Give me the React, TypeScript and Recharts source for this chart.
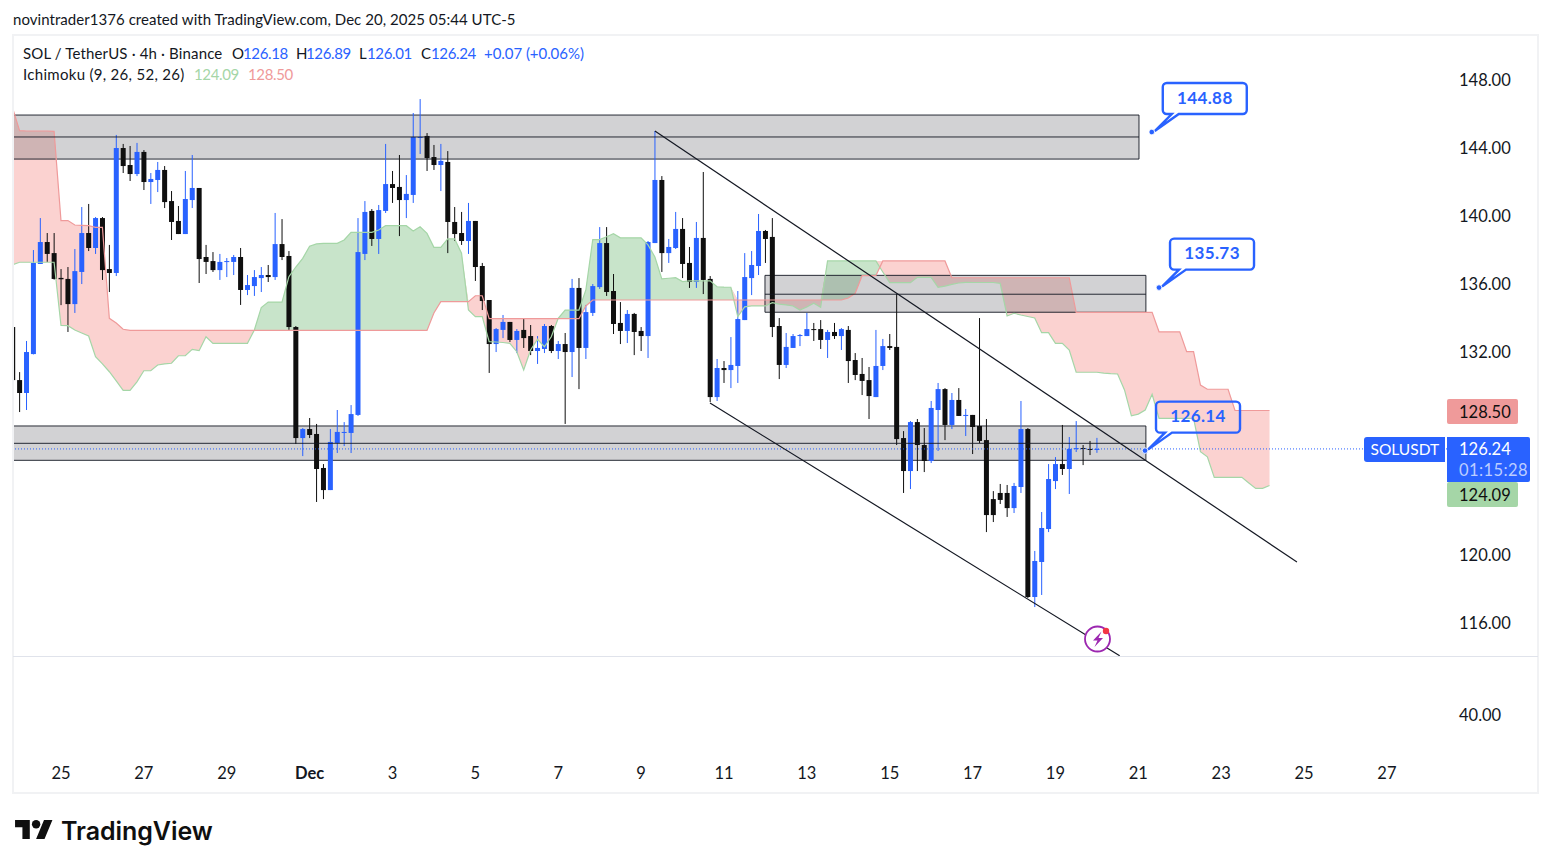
import React from "react";
import { ComposedChart, XAxis, YAxis, Bar, Area, Line, ReferenceArea, ReferenceLine, ReferenceDot } from "recharts";

const FONT = "Lato, 'Open Sans', sans-serif";
const BLUE = "#2962ff";
const INK = "#131722";

// Candles, 4h, one row per line of ten, first candle index = -7
const firstCandle = -7;
const highs = [
  133.41,130.76,132.59,137.94,139.82,138.94,138.94,136.82,136.94,138.00,
  140.47,140.65,139.88,139.88,138.24,144.71,144.18,144.06,144.24,143.82,
  142.47,143.12,142.88,141.41,140.53,142.59,143.53,141.59,138.24,137.82,
  137.71,137.47,137.65,138.06,136.47,136.76,136.94,137.06,140.12,139.76,
  137.88,133.47,127.47,128.06,127.71,125.35,127.41,128.53,127.82,128.82,
  139.82,140.82,140.35,140.59,144.18,142.59,143.53,142.35,146.00,146.82,
  144.82,144.12,144.18,143.76,140.47,140.18,140.71,139.65,137.18,135.00,
  133.35,134.12,133.71,133.29,133.94,133.53,132.88,133.59,133.53,132.59,
  133.06,136.24,136.29,134.71,135.94,139.29,139.29,136.53,134.88,134.41,
  134.24,133.41,138.47,144.94,142.29,138.59,140.18,139.82,138.12,139.59,
  142.53,136.41,131.53,131.41,132.82,135.53,137.76,137.88,140.06,139.12,
  139.82,133.94,133.06,133.00,133.00,134.24,133.65,133.82,133.24,133.65,
  133.35,133.47,131.88,131.59,131.06,133.24,132.71,133.00,135.35,127.29,
  127.88,128.00,127.47,129.06,130.12,129.82,129.53,129.82,128.59,128.24,
  133.94,128.00,123.76,124.18,124.12,124.24,129.06,127.47,120.24,122.53,
  125.35,125.76,127.65,126.94,127.88,126.47,126.71,126.89,
];
const bodyTops = [
  133.41,130.29,131.94,137.18,138.41,138.41,137.76,136.30,136.24,136.70,
  138.94,138.94,139.82,139.82,136.82,143.94,143.94,142.94,143.71,143.71,
  142.12,142.65,142.65,140.82,139.65,140.94,141.59,141.59,137.53,137.29,
  137.24,137.29,137.53,137.53,135.88,136.35,136.47,136.47,138.29,138.29,
  137.59,133.41,127.41,127.41,127.12,125.12,126.65,127.24,127.24,128.29,
  137.82,140.18,140.24,140.29,141.82,141.82,141.65,141.24,144.59,144.59,
  144.65,143.41,143.18,143.12,139.59,138.94,139.65,139.65,137.00,135.00,
  133.29,133.71,133.71,133.18,133.24,132.88,132.18,133.47,133.47,132.41,
  132.41,135.71,135.71,134.29,135.82,138.35,138.35,135.53,133.65,134.18,
  134.18,133.18,138.41,142.06,142.06,138.12,139.18,139.18,137.18,138.65,
  138.65,136.24,131.00,131.00,131.18,133.88,136.35,137.06,139.06,139.06,
  138.71,133.47,132.24,132.88,132.94,133.29,133.29,133.29,133.12,133.12,
  133.29,133.24,131.47,130.65,130.29,131.12,132.29,132.29,132.24,126.88,
  127.82,127.82,126.47,128.65,129.76,129.76,129.12,129.12,128.24,128.24,
  127.59,126.76,123.29,123.65,123.65,124.06,127.41,127.41,119.65,121.59,
  124.47,125.35,125.35,126.24,126.29,126.29,126.24,126.24,
];
const bodyBottoms = [
  130.29,129.53,129.53,131.82,137.12,137.71,136.24,136.22,134.76,134.76,
  136.65,138.06,138.06,136.76,136.59,136.59,142.88,142.41,142.41,141.94,
  141.94,142.06,140.76,139.59,138.88,138.88,140.88,137.41,137.24,136.76,
  136.76,137.24,137.24,135.59,135.59,135.82,136.29,136.35,136.35,137.53,
  133.41,126.88,126.88,127.06,125.06,123.82,123.82,126.59,127.18,127.18,
  128.24,137.71,138.59,138.59,140.24,141.59,140.88,140.88,141.18,144.53,
  143.35,142.94,142.94,139.59,138.88,138.47,138.47,136.94,134.94,132.41,
  132.41,133.24,132.65,132.65,132.76,132.00,132.00,132.12,132.00,132.00,
  131.94,131.94,132.18,132.18,134.24,135.76,135.47,133.59,133.18,133.18,
  133.12,132.88,132.88,138.35,137.76,137.76,138.06,137.12,136.06,136.06,
  136.18,129.29,129.29,130.88,130.88,131.12,133.82,136.29,137.00,138.59,
  133.41,131.18,131.18,132.18,132.88,132.88,133.24,132.65,132.65,132.88,
  132.88,131.41,130.59,130.24,129.35,129.29,131.12,132.18,126.82,124.94,
  124.94,126.47,125.53,125.53,128.53,127.65,127.65,128.18,128.18,127.53,
  126.71,122.35,122.35,123.24,122.76,122.76,124.00,117.53,117.53,119.59,
  121.53,124.35,125.06,125.06,126.24,126.24,126.20,126.18,
];
const lows = [
  130.29,128.41,128.53,131.80,137.12,137.24,136.20,134.70,133.12,134.24,
  135.94,137.88,137.71,136.18,135.47,136.41,142.47,142.00,142.29,141.47,
  140.65,141.35,140.41,138.53,138.88,138.88,140.41,136.00,136.53,136.65,
  136.18,136.35,136.47,134.71,135.29,135.24,135.47,136.06,136.18,137.35,
  133.24,126.53,125.82,126.88,123.12,123.29,123.82,126.00,126.41,126.00,
  128.18,137.35,138.18,137.71,140.12,140.71,138.76,139.82,140.71,143.59,
  142.59,142.65,141.41,137.76,138.47,138.24,137.71,136.12,134.41,130.71,
  131.94,132.76,132.53,131.88,132.18,131.76,131.24,131.88,131.88,131.53,
  127.71,130.47,129.76,131.53,134.06,135.65,135.24,133.00,132.41,132.47,
  131.76,132.00,131.59,138.35,136.65,137.18,138.00,136.29,135.71,135.71,
  135.35,129.00,129.06,130.12,129.82,130.12,133.82,135.29,136.47,137.18,
  132.82,130.35,131.00,132.18,132.29,132.88,132.59,132.12,131.59,132.71,
  132.06,130.12,130.29,129.41,128.00,129.29,130.88,132.06,126.47,123.65,
  123.88,124.94,124.88,125.41,126.12,126.76,127.41,128.18,127.00,125.94,
  126.59,121.35,121.94,123.00,122.24,122.47,123.65,117.47,116.94,117.65,
  121.35,123.88,124.71,123.59,126.06,125.29,125.88,126.01,
];
// Candle indices that closed up (drawn blue)
const upCandles = [
  -5,-4,-3,2,3,5,8,11,13,14,18,19,23,24,25,27,28,29,31,35,39,40,41,42,43,44,46,47,50,51,52,55,59,
  63,64,66,69,70,72,74,76,77,78,82,85,86,88,89,92,95,97,98,99,100,101,105,106,107,108,111,113,118,
  119,123,126,127,129,131,138,139,141,142,143,144,146,147,150,
];

// Ichimoku leading spans, one value per index, first index = -7, ten per line
const senkouA = [
  137.08,137.22,137.22,137.22,137.22,137.22,137.22,133.50,133.49,133.24,
  133.06,132.88,131.66,131.24,130.78,130.24,129.69,129.69,130.19,130.84,
  130.84,131.18,131.24,131.28,131.72,131.72,132.10,132.02,132.84,132.45,
  132.45,132.45,132.45,132.45,132.45,133.24,134.55,134.88,134.88,134.88,
  136.37,136.94,137.45,138.16,138.30,138.33,138.33,138.33,138.53,138.98,
  138.98,138.98,138.98,139.12,139.37,139.37,139.37,139.37,139.06,139.31,
  138.92,138.10,138.10,138.59,138.59,137.75,134.41,134.02,134.02,132.55,
  132.53,132.50,132.45,131.96,130.88,132.06,132.69,132.25,132.84,133.92,
  134.41,134.41,134.41,135.59,138.55,138.55,138.72,138.90,138.66,138.66,
  138.66,138.66,138.24,137.53,136.24,136.28,136.31,136.08,136.12,136.12,
  136.12,136.13,135.78,135.76,135.75,134.02,134.60,134.65,134.65,134.65,
  134.84,134.76,134.71,134.65,134.41,134.59,134.81,134.57,137.30,137.30,
  137.30,137.30,137.30,137.30,137.30,137.30,136.65,136.02,136.02,136.02,
  136.02,136.33,136.33,136.33,135.75,135.82,135.92,136.00,136.04,136.03,
  136.03,136.03,136.03,135.98,134.06,134.22,134.12,134.03,133.94,133.08,
  133.08,132.45,132.45,132.06,130.75,130.75,130.75,130.75,130.70,130.67,
  130.65,129.71,128.19,128.29,128.53,129.45,128.04,128.04,128.04,128.04,
  128.04,128.04,126.08,125.78,124.57,124.57,124.57,124.57,124.57,124.24,
  123.92,123.92,124.09,
];
const senkouB = [
  146.29,144.96,144.94,144.94,144.94,144.94,144.92,139.67,139.67,139.41,
  139.39,139.37,139.27,139.27,133.92,133.65,133.28,133.21,133.21,133.21,
  133.21,133.21,133.21,133.21,133.21,133.21,133.21,133.21,133.21,133.21,
  133.21,133.21,133.21,133.21,133.21,133.21,133.21,133.21,133.21,133.21,
  133.21,133.21,133.21,133.21,133.21,133.21,133.21,133.21,133.21,133.21,
  133.21,133.21,133.21,133.21,133.21,133.21,133.21,133.21,133.21,133.21,
  133.21,134.24,134.90,134.90,134.90,134.90,134.90,135.25,135.25,133.90,
  133.90,133.90,133.90,133.90,133.90,133.90,133.90,133.90,133.90,133.90,
  133.90,133.90,133.90,134.65,135.00,135.00,135.00,135.00,135.00,135.00,
  135.00,135.00,135.00,135.00,135.00,135.00,135.00,135.00,135.00,135.00,
  135.00,135.00,135.00,135.00,135.00,135.00,135.00,135.00,135.00,135.00,
  135.00,135.00,135.00,135.00,135.00,135.00,135.00,135.00,135.00,135.00,
  135.00,135.12,135.39,136.43,136.43,136.43,137.30,137.30,137.30,137.30,
  137.30,137.30,137.30,137.30,137.30,137.30,136.31,136.31,136.31,136.31,
  136.31,136.31,136.31,136.31,136.31,136.31,136.31,136.31,136.31,136.31,
  136.31,136.31,136.31,136.31,134.27,134.27,134.27,134.27,134.27,134.27,
  134.27,134.27,134.27,134.27,134.27,134.27,133.13,133.13,133.13,133.13,
  131.96,131.96,130.00,129.75,129.75,129.75,129.75,128.50,128.50,128.50,
  128.50,128.50,128.50,
];

// 124.00 and 128.00 are covered by the price tags in the reference
const priceTicks = [116, 120, 132, 136, 140, 144, 148];
const timeTickIndex = [0, 12, 24, 36, 48, 60, 72, 84, 96, 108, 120, 132, 144, 156, 168, 180, 192];
const timeTickLabels = ["25", "27", "29", "Dec", "3", "5", "7", "9", "11", "13", "15", "17", "19", "21", "23", "25", "27"];

// Drawings, in candle index and price
const zones = [
  { x1: -7.5, x2: 156.1, top: 145.88, mid: 144.59, bottom: 143.29 },
  { x1: 101.94, x2: 157.1, top: 136.45, mid: 135.34, bottom: 134.28 },
  { x1: -7.5, x2: 157.1, top: 127.59, mid: 126.57, bottom: 125.57 },
];
const trendLines = [
  [{ x: 86, y: 144.94 }, { x: 178.97, y: 119.59 }],
  [{ x: 93.98, y: 128.94 }, { x: 153.3, y: 114.07 }],
];
const callouts = [
  { k: 157.95, price: 144.88 },
  { k: 159, price: 135.73 },
  { k: 156.97, price: 126.14 },
];
const lastPrice = 126.24;

const X_DOMAIN = [-6.95, 200.7];
const Y_DOMAIN = [114.06, 150.588];

const rows = senkouA.map((a, i) => {
  const k = i + firstCandle;
  const b = senkouB[i];
  const top = Math.max(a, b);
  const row: any = { k, a, b, green: [b, top], red: [a, top] };
  if (i < highs.length) {
    row.range = [lows[i], highs[i]];
    row.high = highs[i];
    row.low = lows[i];
    row.bodyTop = bodyTops[i];
    row.bodyBottom = bodyBottoms[i];
    row.up = upCandles.includes(k);
  }
  return row;
});

function Candle(props: any) {
  const { x, y, width, height, payload } = props;
  if (!payload || payload.high === undefined) return null;
  const h = Math.abs(height);
  const cx = x + width / 2;
  const perPrice = h / (payload.high - payload.low || 1);
  const toY = (p: number) => y + (payload.high - p) * perPrice;
  const color = payload.up ? BLUE : "#0f0f0f";
  const t = toY(payload.bodyTop);
  const b = toY(payload.bodyBottom);
  return (
    <g>
      <rect x={cx - 0.5} y={y} width={1} height={h} fill={color} />
      <rect x={cx - 2.5} y={t} width={5} height={Math.max(b - t, 1)} fill={color} />
    </g>
  );
}

function PriceTick(props: any) {
  const { y, payload } = props;
  return (
    <text x={1459} y={y + 6.5 + (350 - y) * 0.002} fill={INK} fontSize={16.5} fontFamily={FONT}>
      {payload.value.toFixed(2)}
    </text>
  );
}

function TimeTick(props: any) {
  const { x, payload } = props;
  const label = timeTickLabels[timeTickIndex.indexOf(payload.value)];
  return (
    <text x={x} y={779} fill={INK} fontSize={16.5} fontWeight={label === "Dec" ? 700 : 400} fontFamily={FONT} textAnchor="middle">
      {label}
    </text>
  );
}

function Callout(props: any) {
  const { cx, cy, price } = props;
  return (
    <g transform={`translate(${cx},${cy})`}>
      <path
        d="M15,-49 H91 a4,4 0 0 1 4,4 V-22 a4,4 0 0 1 -4,4 H27 L3,-1 L20,-18 H15 a4,4 0 0 1 -4,-4 V-45 a4,4 0 0 1 4,-4 Z"
        fill="none"
        stroke={BLUE}
        strokeWidth={2.4}
      />
      <circle r={2.8} fill={BLUE} stroke="#fff" strokeWidth={0.8} />
      <text x={53} y={-28.5} textAnchor="middle" fill={BLUE} fontSize={17} fontWeight={700} fontFamily={FONT} letterSpacing={0.4}>
        {price.toFixed(2)}
      </text>
    </g>
  );
}

const abs = (left: number, top: number, extra: any = {}) => ({ position: "absolute" as const, left, top, whiteSpace: "nowrap" as const, ...extra });

const LEGEND = { fontSize: 15, lineHeight: "18px" };
const NUM = { ...LEGEND, color: BLUE, letterSpacing: -0.35 };

function Tag({ left, top, width, height, bg, color, text, radius, pad, size, shift = 0 }: any) {
  return (
    <div
      style={abs(left, top, {
        width,
        height,
        background: bg,
        color,
        fontSize: size || 16.5,
        lineHeight: height + shift + "px",
        paddingLeft: pad,
        boxSizing: "border-box",
        borderRadius: radius,
      })}
    >
      {text}
    </div>
  );
}

export default function App() {
  return (
    <div style={{ position: "absolute", left: 0, top: 0, width: 1551, height: 868, background: "#fff", fontFamily: FONT, color: INK, overflow: "hidden" }}>
      <div style={abs(13, 10, { fontSize: 15, lineHeight: "18px", letterSpacing: 0.05 })}>novintrader1376 created with TradingView.com, Dec 20, 2025 05:44 UTC-5</div>

      <div style={{ position: "absolute", left: 0, top: 0 }}>
        <ComposedChart width={1551} height={868} data={rows} margin={{ top: 35, right: 0, bottom: 0, left: 13 }}>
          <XAxis dataKey="k" type="number" domain={X_DOMAIN} allowDataOverflow ticks={timeTickIndex} interval={0} height={212} axisLine={false} tickLine={false} tick={<TimeTick />} />
          <YAxis orientation="right" type="number" domain={Y_DOMAIN} allowDataOverflow ticks={priceTicks} interval={0} width={104} axisLine={false} tickLine={false} tick={<PriceTick />} />
          <Area dataKey="green" type="linear" fill="#c8e4ca" fillOpacity={1} stroke="none" isAnimationActive={false} dot={false} activeDot={false} />
          <Area dataKey="red" type="linear" fill="#fbd2d0" fillOpacity={1} stroke="none" isAnimationActive={false} dot={false} activeDot={false} />
          <Line dataKey="a" type="linear" stroke="#a5d6a7" strokeWidth={1.2} dot={false} activeDot={false} isAnimationActive={false} />
          <Line dataKey="b" type="linear" stroke="#ef9a9a" strokeWidth={1.2} dot={false} activeDot={false} isAnimationActive={false} />
          <ReferenceLine y={lastPrice} stroke={BLUE} strokeDasharray="1 2" strokeWidth={1} />
          <Bar dataKey="range" barSize={5} shape={<Candle />} isAnimationActive={false} />
          {zones.map((z, i) => (
            <ReferenceArea key={"z" + i} x1={z.x1} x2={z.x2} y1={z.bottom} y2={z.top} fill="#76777d" fillOpacity={0.33} stroke={INK} strokeWidth={1} strokeOpacity={0.9} ifOverflow="hidden" />
          ))}
          {zones.map((z, i) => (
            <ReferenceLine key={"m" + i} segment={[{ x: z.x1, y: z.mid }, { x: z.x2, y: z.mid }]} stroke={INK} strokeWidth={1} strokeOpacity={0.9} ifOverflow="hidden" />
          ))}
          {trendLines.map((t, i) => (
            <ReferenceLine key={"t" + i} segment={t} stroke={INK} strokeWidth={1.2} />
          ))}
          {callouts.map((c, i) => (
            <ReferenceDot key={"c" + i} x={c.k} y={c.price} r={3} shape={<Callout price={c.price} />} />
          ))}
        </ComposedChart>
      </div>

      {/* frame and separator */}
      <div style={{ position: "absolute", left: 12, top: 34, width: 1523, height: 756, border: "2px solid #f1f2f4", pointerEvents: "none" }} />
      <div style={{ position: "absolute", left: 13, top: 656, width: 1525, height: 1, background: "#e0e3eb" }} />
      <div style={abs(1459, 705, { fontSize: 16.5, lineHeight: "20px" })}>40.00</div>

      {/* legend */}
      <div style={abs(23, 44, { ...LEGEND, letterSpacing: 0.15 })}>SOL / TetherUS · 4h · Binance</div>
      <div style={abs(232, 44, LEGEND)}>O</div><div style={abs(243, 44, NUM)}>126.18</div>
      <div style={abs(296, 44, LEGEND)}>H</div><div style={abs(306, 44, NUM)}>126.89</div>
      <div style={abs(359, 44, LEGEND)}>L</div><div style={abs(367, 44, NUM)}>126.01</div>
      <div style={abs(421, 44, LEGEND)}>C</div><div style={abs(431, 44, NUM)}>126.24</div>
      <div style={abs(484, 44, { ...NUM, letterSpacing: -0.05 })}>+0.07 (+0.06%)</div>
      <div style={abs(23, 65, { ...LEGEND, letterSpacing: 0.3 })}>Ichimoku (9, 26, 52, 26)</div>
      <div style={abs(194, 65, { ...NUM, color: "#a5d6a7" })}>124.09</div>
      <div style={abs(248, 65, { ...NUM, color: "#ef9a9a" })}>128.50</div>

      {/* price tags */}
      <Tag left={1447} top={399} width={71} height={25} bg="#ef9a9a" color="#0f0f0f" text="128.50" radius={2} pad={12} shift={2} />
      <Tag left={1447} top={482} width={71} height={25} bg="#a5d6a7" color="#0f0f0f" text="124.09" radius={2} pad={12} shift={2} />
      <Tag left={1364} top={437} width={81} height={25} bg={BLUE} color="#fff" text="SOLUSDT" radius="3px 0 0 3px" pad={6.5} size={15.5} />
      <div style={abs(1447, 437, { width: 83, height: 45, background: BLUE, borderRadius: "0 2px 2px 0" })}>
        <div style={{ color: "#fff", fontSize: 16.5, lineHeight: "24px", paddingLeft: 12 }}>126.24</div>
        <div style={{ color: "#bccdff", fontSize: 16.5, lineHeight: "18px", paddingLeft: 12, letterSpacing: 0.4 }}>01:15:28</div>
      </div>

      {/* alert icon */}
      <svg style={{ position: "absolute", left: 1080, top: 622 }} width={36} height={34}>
        <circle cx={17.5} cy={17} r={12.5} fill="#fff" stroke="#9c27b0" strokeWidth={1.8} />
        <path d="M21.5,9.5 L13,18.5 H17.5 L14.5,25 L23,16 H18.5 Z" fill="#9c27b0" />
        <circle cx={26} cy={9} r={3.2} fill="#f23645" />
      </svg>

      {/* brand */}
      <svg style={{ position: "absolute", left: 15, top: 820 }} width={38} height={20} viewBox="0 0 36 19">
        <path d="M14 18H7V7H0V0h14v18zM28 18h-8L27.5 0h8L28 18z" fill="#0f0f0f" />
        <circle cx={20} cy={4} r={4} fill="#0f0f0f" />
      </svg>
      <div style={abs(61, 814, { fontSize: 25, lineHeight: "34px", fontFamily: "Inter, sans-serif", fontWeight: 600, color: "#0f0f0f", letterSpacing: -0.05 })}>TradingView</div>
    </div>
  );
}
